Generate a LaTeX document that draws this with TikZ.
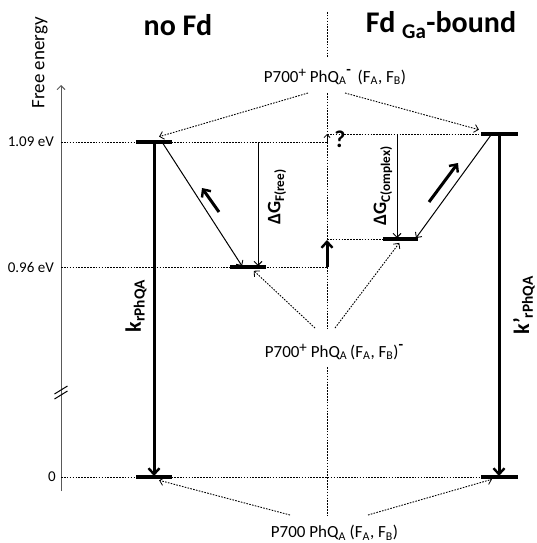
\documentclass[tikz,border=0pt]{standalone}
\usepackage{fontspec}
\setmainfont{Carlito}
\usetikzlibrary{arrows.meta}
\newcommand{\supplus}{\raisebox{0.6ex}{\fontsize{15}{15}\selectfont +}}
\newcommand{\supminus}{\raisebox{1.0ex}{\fontsize{15}{15}\selectfont\bfseries -}}
\begin{document}
\begin{tikzpicture}[x=1pt,y=-1pt,
  lvl/.style={line width=3.8pt},
  bigarr/.style={line width=3pt,-{Straight Barb[length=6pt,width=11pt,line width=2.4pt]}},
  thinarr/.style={line width=1pt,-{Straight Barb[length=4pt,width=8pt,line width=0.9pt]}},
  dotl/.style={line width=0.9pt,dash pattern=on 1.6pt off 1.3pt},
  dotarr/.style={dotl,-{Straight Barb[length=4pt,width=8pt,line width=0.8pt,sep]}},
  lab/.style={font=\fontsize{15}{17}\selectfont,inner sep=0pt},
  state/.style={font=\fontsize{17}{19}\selectfont,inner sep=0pt},
  title/.style={font=\fontsize{30}{32}\selectfont\bfseries,inner sep=0pt},
  rlab/.style={rotate=90,inner sep=0pt,font=\bfseries}
]
\useasboundingbox (0,0) rectangle (536,543);

% titles
\node[title] (t1) at (178,25) {no Fd};
\node[title] (t2) at (441,25) {Fd \textsubscript{Ga}-bound};

% axis
\node[rotate=90,inner sep=0pt,font=\fontsize{19}{21}\selectfont] (fe) at (40,63) {Free energy};
\coordinate (axb) at (61,491);
\coordinate (axt) at (61,85);
\draw[line width=1pt,black!65,-{Straight Barb[length=4pt,width=8pt,line width=0.9pt]}] (axb) -- (axt);
\coordinate (br1a) at (54.5,399); \coordinate (br1b) at (67.5,391);
\coordinate (br2a) at (54.5,394); \coordinate (br2b) at (67.5,386);
\draw[line width=1pt] (br1a) -- (br1b);
\draw[line width=1pt] (br2a) -- (br2b);
\node[lab,anchor=east] (e109) at (54,142) {1.09 eV};
\node[lab,anchor=east] (e096) at (54,267) {0.96 eV};
\node[lab,anchor=east] (e0) at (56,477) {0};

% center dotted divider
\coordinate (dv0) at (327,12);
\coordinate (dv1) at (327,58);
\coordinate (dv2) at (327,93);
\coordinate (dv3) at (327,328);
\coordinate (dv4) at (327,367);
\coordinate (dv5) at (327,515);
\draw[dotl] (dv0) -- (dv1);
\draw[dotl] (dv2) -- (dv3);
\draw[dotl] (dv4) -- (dv5);

% dotted level lines
\coordinate (h1a) at (61,142); \coordinate (h1b) at (327,142);
\coordinate (h2a) at (61,267); \coordinate (h2b) at (327,267);
\coordinate (h3a) at (61,477); \coordinate (h3b) at (481,477);
\coordinate (h4a) at (327,134); \coordinate (h4b) at (481,134);
\coordinate (h5a) at (327,239); \coordinate (h5b) at (383,239);
\draw[dotl] (h1a) -- (h1b);
\draw[dotl] (h2a) -- (h2b);
\draw[dotl] (h3a) -- (h3b);
\draw[dotl] (h4a) -- (h4b);
\draw[dotl] (h5a) -- (h5b);

% small question arrow
\draw[line width=0.9pt,-{Straight Barb[length=3pt,width=6pt,line width=0.8pt]}] (h1b) -- (h4a);
\node[inner sep=0pt,font=\fontsize{24}{26}\selectfont\bfseries] (q) at (340,139) {?};

% levels left
\coordinate (L1a) at (136,142); \coordinate (L1b) at (172,142);
\coordinate (L0a) at (136,477); \coordinate (L0b) at (172,477);
\coordinate (LFa) at (230,267); \coordinate (LFb) at (266,267);
\draw[lvl] (L1a) -- (L1b);
\draw[lvl] (L0a) -- (L0b);
\draw[lvl] (LFa) -- (LFb);
% levels right
\coordinate (R1a) at (481,134); \coordinate (R1b) at (518,134);
\coordinate (R0a) at (481,477); \coordinate (R0b) at (518,477);
\coordinate (RCa) at (383,239); \coordinate (RCb) at (418,239);
\draw[lvl] (R1a) -- (R1b);
\draw[lvl] (R0a) -- (R0b);
\draw[lvl] (RCa) -- (RCb);

% big vertical arrows
\coordinate (kL1) at (154,142); \coordinate (kL0) at (154,476);
\coordinate (kR1) at (499,134); \coordinate (kR0) at (499,476);
\draw[bigarr] (kL1) -- (kL0);
\draw[bigarr] (kR1) -- (kR0);
\node[rlab] (kl) at (136,306) {\fontsize{22}{24}\selectfont k\textsubscript{rPhQA}};
\node[rlab] (kr) at (524,305) {\fontsize{22}{24}\selectfont k'\textsubscript{rPhQA}};

% thin arrows
\coordinate (dLa) at (162,142); \coordinate (dLb) at (242,266);
\draw[thinarr] (dLa) -- (dLb);
\coordinate (gFa) at (258,142); \coordinate (gFb) at (258,266);
\draw[thinarr] (gFa) -- (gFb);
\node[rlab] (gF) at (277,197) {\fontsize{19}{20}\selectfont ΔG\textsubscript{F(ree)}};
\coordinate (gCa) at (397,134); \coordinate (gCb) at (397,238);
\draw[thinarr] (gCa) -- (gCb);
\node[rlab] (gC) at (383,186) {\fontsize{19}{20}\selectfont ΔG\textsubscript{C(omplex)}};
\coordinate (dRa) at (491,135); \coordinate (dRb) at (416,238);
\draw[thinarr] (dRa) -- (dRb);

% thick small arrows
\coordinate (sLa) at (219,212); \coordinate (sLb) at (202,188);
\draw[bigarr] (sLa) -- (sLb);
\coordinate (sRa) at (429,202); \coordinate (sRb) at (458,163);
\draw[bigarr] (sRa) -- (sRb);
\coordinate (sCa) at (327,267); \coordinate (sCb) at (327,240);
\draw[bigarr] (sCa) -- (sCb);

% state labels
\node[state] (top) at (335,77) {P700\supplus{} PhQ\textsubscript{A}\supminus{}\, (F\textsubscript{A}, F\textsubscript{B})};
\node[state] (mid) at (334,352) {P700\supplus{} PhQ\textsubscript{A}\,(F\textsubscript{A}, F\textsubscript{B})\supminus};
\node[state] (bot) at (334.5,533) {P700 PhQ\textsubscript{A} (F\textsubscript{A}, F\textsubscript{B})};

% dotted connectors
\coordinate (c1a) at (308,93); \coordinate (c1b) at (158,137);
\coordinate (c2a) at (345,93); \coordinate (c2b) at (480,130);
\coordinate (c3a) at (315,328); \coordinate (c3b) at (253,270);
\coordinate (c4a) at (335,328); \coordinate (c4b) at (400,242);
\coordinate (c5a) at (290,515); \coordinate (c5b) at (158,480);
\coordinate (c6a) at (368,515); \coordinate (c6b) at (493,479);
\draw[dotarr] (c1a) -- (c1b);
\draw[dotarr] (c2a) -- (c2b);
\draw[dotarr] (c3a) -- (c3b);
\draw[dotarr] (c4a) -- (c4b);
\draw[dotarr] (c5a) -- (c5b);
\draw[dotarr] (c6a) -- (c6b);
\end{tikzpicture}
\end{document}
